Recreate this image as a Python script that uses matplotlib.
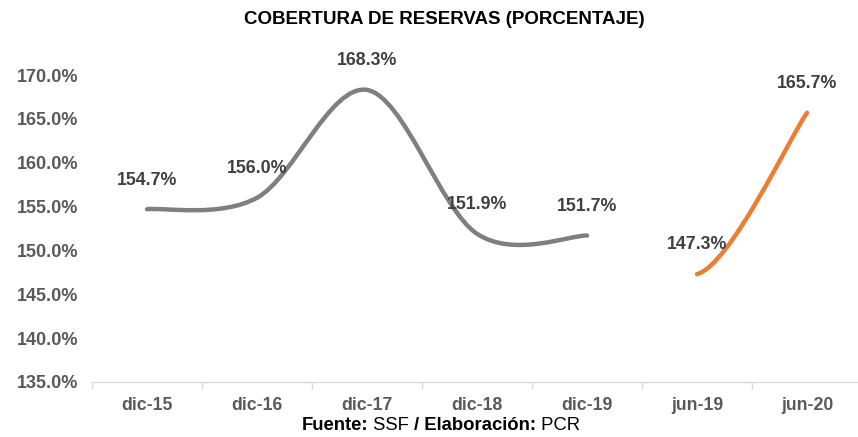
import numpy as np
import matplotlib.pyplot as plt
from matplotlib.path import Path
from matplotlib.patches import PathPatch

plt.rcParams['font.family'] = ['Liberation Sans', 'DejaVu Sans']

categories = ['dic-15', 'dic-16', 'dic-17', 'dic-18', 'dic-19', 'jun-19', 'jun-20']
annual_vals = [154.7, 156.0, 168.3, 151.9, 151.7]
semester_vals = [147.3, 165.7]
yticks = [135, 140, 145, 150, 155, 160, 165, 170]

GRAY = '#7F7F7F'
ORANGE = '#ED7D31'
LABEL = '#404040'
TICK = '#595959'


def smooth_path(xs, ys, start_tan=None):
    # excel-like smoothed line: catmull-rom converted to cubic bezier
    pts = np.column_stack([xs, ys]).astype(float)
    n = len(pts)
    verts = [pts[0]]
    codes = [Path.MOVETO]
    for i in range(n - 1):
        p0 = pts[i - 1] if i > 0 else pts[i]
        p1, p2 = pts[i], pts[i + 1]
        p3 = pts[i + 2] if i + 2 < n else pts[i + 1]
        c1 = p1 + (p2 - p0) / 6
        if i == 0 and start_tan is not None:
            c1 = p1 + np.asarray(start_tan)
        c2 = p2 - (p3 - p1) / 6
        verts += [c1, c2, p2]
        codes += [Path.CURVE4] * 3
    return Path(verts, codes)


fig = plt.figure(figsize=(8.58, 4.37), dpi=100)
ax = fig.add_axes([92 / 858, 55 / 437, 770 / 858, 307 / 437])

x1 = np.arange(len(annual_vals))
x2 = np.arange(len(annual_vals), len(categories))

ax.add_patch(PathPatch(smooth_path(x1, annual_vals), fill=False, edgecolor=GRAY,
                       lw=3.2, capstyle='round', joinstyle='round'))
ax.add_patch(PathPatch(smooth_path(x2, semester_vals, start_tan=(0.3, 1.0)), fill=False,
                       edgecolor=ORANGE, lw=3.2, capstyle='round', joinstyle='round'))

for x, v in list(zip(x1, annual_vals)) + list(zip(x2, semester_vals)):
    ax.annotate(f'{v:.1f}%', (x, v), xytext=(0, 21), textcoords='offset points',
                ha='center', va='center', fontsize=12.8, fontweight='bold', color=LABEL)

ax.set_xlim(-0.5, len(categories) - 0.5)
ax.set_ylim(135, 170)
ax.set_yticks(yticks)
ax.set_yticklabels([f'{t:.1f}%' for t in yticks])
ax.set_xticks(range(len(categories)))
ax.set_xticklabels(categories)
ax.set_xticks(np.arange(-0.5, len(categories), 1), minor=True)

for s in ['top', 'right', 'left']:
    ax.spines[s].set_visible(False)
ax.spines['bottom'].set_color('#D9D9D9')
ax.spines['bottom'].set_linewidth(1)

ax.tick_params(axis='y', length=0, pad=10, labelsize=13, labelcolor=TICK)
ax.tick_params(axis='x', which='major', length=0, pad=11, labelsize=12.7, labelcolor=TICK)
ax.tick_params(axis='x', which='minor', length=5, color='#D9D9D9', width=1)
for lab in ax.get_xticklabels() + ax.get_yticklabels():
    lab.set_fontweight('bold')

fig.text(444 / 858, 1 - 20 / 437, 'COBERTURA DE RESERVAS (PORCENTAJE)', ha='center', va='center',
         fontsize=13.5, fontweight='bold', color='black')

# footer with mixed bold / regular parts
parts = [('Fuente:', 'bold'), (' SSF ', 'normal'), ('/ Elaboración:', 'bold'), (' PCR', 'normal')]
t = fig.text(302 / 858, 1 - 425 / 437, parts[0][0], ha='left', va='center',
             fontsize=13.3, fontweight=parts[0][1], color='black')
for txt, w in parts[1:]:
    t = ax.annotate(txt, xy=(1, 0.5), xycoords=t, ha='left', va='center',
                    fontsize=13.3, fontweight=w, color='black', annotation_clip=False)

fig.savefig('out.png', dpi=100)
